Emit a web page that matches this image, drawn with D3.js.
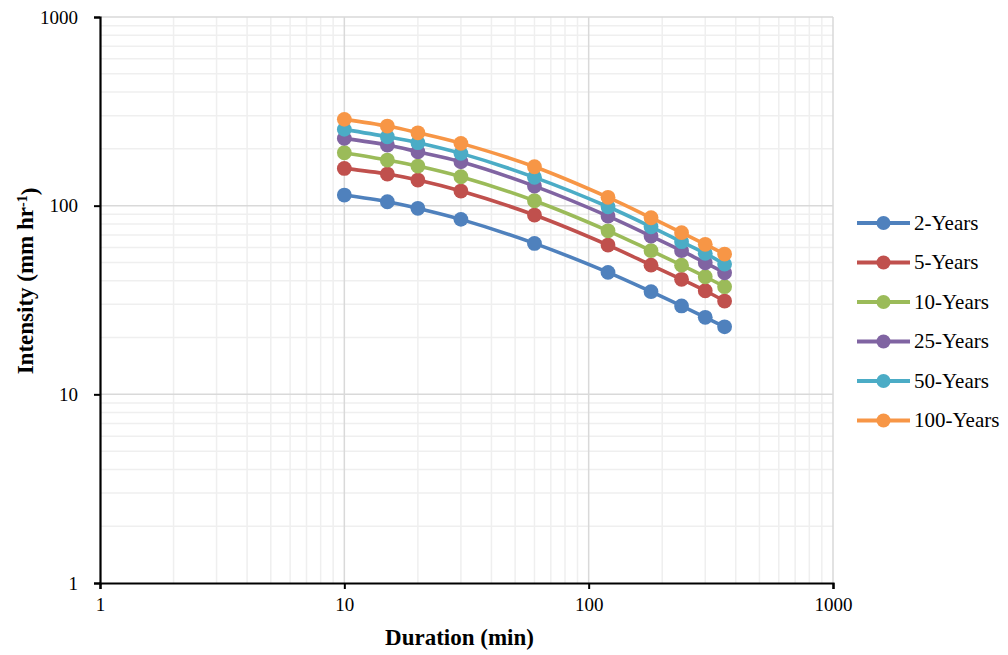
<!DOCTYPE html>
<html lang="en">
<head>
<meta charset="utf-8">
<title>IDF curves</title>
<script src="https://d3js.org/d3.v7.min.js"></script>
<style>
  body { margin: 0; background: #fff; }
</style>
</head>
<body>
<script>
// durations (min) and intensities (mm/hr) per return period
var durations = [10, 15, 20, 30, 60, 120, 180, 240, 300, 360];
var seriesNames = ["2-Years", "5-Years", "10-Years", "25-Years", "50-Years", "100-Years"];
var y2   = [113.8, 104.9, 96.8, 84.6, 63.1, 44.3, 35.0, 29.4, 25.6, 22.8];
var y5   = [157.6, 147.1, 136.7, 119.5, 89.2, 61.8, 48.4, 40.7, 35.4, 31.2];
var y10  = [190.7, 174.4, 162.1, 142.3, 106.2, 73.6, 57.7, 48.4, 42.0, 37.2];
var y25  = [227.3, 209.5, 193.1, 170.9, 127.0, 88.1, 69.0, 57.7, 49.8, 44.1];
var y50  = [253.7, 231.8, 215.6, 189.3, 141.3, 98.7, 77.3, 64.4, 55.9, 49.0];
var y100 = [286.7, 264.1, 243.4, 213.9, 160.8, 110.7, 86.3, 71.9, 62.4, 55.4];
var seriesValues = [y2, y5, y10, y25, y50, y100];
var colors = ["#4F81BD", "#C0504D", "#9BBB59", "#8064A2", "#4BACC6", "#F79646"];
var tickValues = [1, 10, 100, 1000];

var w = 1008, h = 655;
var serif = "Liberation Serif";
// plot area edges
var pLeft = 100, pRight = 833, pTop = 17, pBottom = 583;

var svg = d3.select("body").append("svg")
    .attr("width", w)
    .attr("height", h)
    .style("font-family", serif);

var x = d3.scaleLog().domain([1, 1000]).range([pLeft, pRight]);
var y = d3.scaleLog().domain([1, 1000]).range([pBottom, pTop]);

// minor + major grid
var minor = [];
for (var d = 1; d < 1000; d *= 10) {
    for (var k = 2; k <= 9; k++) minor.push(d * k);
}
var grid = svg.append("g");
grid.selectAll(".vmin").data(minor).enter().append("line")
    .attr("x1", function(d) { return x(d); }).attr("x2", function(d) { return x(d); })
    .attr("y1", pTop).attr("y2", pBottom)
    .attr("stroke", "#efefef").attr("stroke-width", 1.5);
grid.selectAll(".hmin").data(minor).enter().append("line")
    .attr("y1", function(d) { return y(d); }).attr("y2", function(d) { return y(d); })
    .attr("x1", pLeft).attr("x2", pRight)
    .attr("stroke", "#efefef").attr("stroke-width", 1.5);
grid.selectAll(".vmaj").data(tickValues.slice(1)).enter().append("line")
    .attr("x1", function(d) { return x(d); }).attr("x2", function(d) { return x(d); })
    .attr("y1", pTop).attr("y2", pBottom)
    .attr("stroke", "#d9d9d9").attr("stroke-width", 1.5);
grid.selectAll(".hmaj").data(tickValues.slice(1)).enter().append("line")
    .attr("y1", function(d) { return y(d); }).attr("y2", function(d) { return y(d); })
    .attr("x1", pLeft).attr("x2", pRight)
    .attr("stroke", "#d9d9d9").attr("stroke-width", 1.5);

// axes
var xAxis = d3.axisBottom(x).tickValues(tickValues).tickFormat(d3.format("d")).tickSizeOuter(0).tickSize(6).tickPadding(9);
var yAxis = d3.axisLeft(y).tickValues(tickValues).tickFormat(d3.format("d")).tickSizeOuter(0).tickSize(6).tickPadding(16);

var gx = svg.append("g").attr("transform", "translate(0," + pBottom + ")").call(xAxis);
var gy = svg.append("g").attr("transform", "translate(" + pLeft + ",0)").call(yAxis);
[gx, gy].forEach(function(g) {
    g.attr("font-family", serif);
    g.select(".domain").attr("stroke", "#000").attr("stroke-width", 2.2);
    g.selectAll(".tick line").attr("stroke", "#000").attr("stroke-width", 2);
    g.selectAll(".tick text").style("font-family", serif).style("font-size", "19px").attr("fill", "#000");
});
gy.selectAll(".tick text").attr("dy", "0.32em");

// series (smoothed lines with round markers)
var line = d3.line()
    .x(function(d, i) { return x(durations[i]); })
    .y(function(d) { return y(d); })
    .curve(d3.curveCatmullRom.alpha(0.5));

seriesValues.forEach(function(vals, s) {
    var g = svg.append("g");
    g.append("path").datum(vals)
        .attr("d", line)
        .attr("fill", "none")
        .attr("stroke", colors[s])
        .attr("stroke-width", 3.6);
    g.selectAll("circle").data(vals).enter().append("circle")
        .attr("cx", function(d, i) { return x(durations[i]); })
        .attr("cy", function(d) { return y(d); })
        .attr("r", 7.4)
        .attr("fill", colors[s]);
});

// axis titles
svg.append("text")
    .attr("x", (pLeft + pRight) / 2 - 7).attr("y", 645)
    .attr("text-anchor", "middle")
    .style("font-family", serif)
    .style("font-size", "23px").style("font-weight", "bold")
    .text("Duration (min)");

var yt = svg.append("text")
    .attr("transform", "translate(33,281) rotate(-90)")
    .attr("text-anchor", "middle")
    .style("font-family", serif)
    .style("font-size", "23px").style("font-weight", "bold");
yt.append("tspan").text("Intensity (mm hr");
yt.append("tspan").attr("dy", "-0.45em").style("font-size", "14px").text("-1");
yt.append("tspan").attr("dy", "0.45em").text(")");

// legend
var legend = svg.append("g").attr("transform", "translate(857,223)");
seriesNames.forEach(function(name, i) {
    var row = legend.append("g").attr("transform", "translate(0," + (i * 39.5) + ")");
    row.append("line").attr("x1", 0).attr("x2", 53).attr("y1", 0).attr("y2", 0)
        .attr("stroke", colors[i]).attr("stroke-width", 3.8);
    row.append("circle").attr("cx", 26.5).attr("cy", 0).attr("r", 7).attr("fill", colors[i]);
    row.append("text").attr("x", 57).attr("y", 0).attr("dy", "0.33em")
        .style("font-family", serif)
        .style("font-size", "21px").text(name);
});
</script>
</body>
</html>
